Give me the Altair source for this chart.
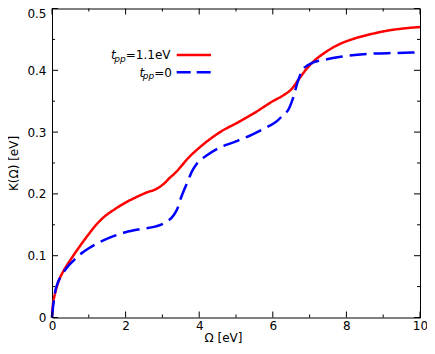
import altair as alt
import pandas as pd

# ---- data ----
red_x = [0, 0.02, 0.05, 0.1, 0.2, 0.3, 0.4, 0.5, 0.6, 0.8, 1.0, 1.2, 1.4, 1.7, 2.0,
         2.3, 2.6, 2.8, 2.92, 3.05, 3.2, 3.35, 3.5, 3.7, 3.95, 4.3, 4.65, 5.0, 5.5,
         6.0, 6.3, 6.5, 6.7, 6.9, 7.1, 7.4, 7.8, 8.2, 8.7, 9.2, 9.6, 10]
red_y = [0, 0.018, 0.03, 0.043, 0.062, 0.074, 0.084, 0.093, 0.102, 0.119, 0.135, 0.15,
         0.162, 0.175, 0.186, 0.195, 0.203, 0.207, 0.211, 0.217, 0.226, 0.234, 0.244,
         0.258, 0.272, 0.289, 0.303, 0.314, 0.331, 0.35, 0.36, 0.369, 0.385, 0.401,
         0.414, 0.428, 0.442, 0.451, 0.459, 0.465, 0.468, 0.47]

blue_x = [0, 0.03, 0.08, 0.15, 0.3, 0.45, 0.6, 0.7, 0.85, 1.0, 1.3, 1.6, 2.0, 2.4, 2.8,
          3.0, 3.15, 3.3, 3.4, 3.5, 3.6, 3.7, 3.8, 3.95, 4.2, 4.56, 5.0, 5.44, 5.9, 6.1,
          6.3, 6.42, 6.55, 6.68, 6.8, 6.95, 7.1, 7.4, 7.84, 8.3, 8.72, 9.3, 10]
blue_y = [0, 0.018, 0.04, 0.055, 0.072, 0.084, 0.093, 0.099, 0.106, 0.112, 0.122, 0.13,
          0.138, 0.143, 0.147, 0.151, 0.156, 0.165, 0.175, 0.193, 0.208, 0.222, 0.236,
          0.25, 0.262, 0.275, 0.285, 0.296, 0.31, 0.317, 0.329, 0.336, 0.355, 0.382,
          0.4, 0.408, 0.413, 0.417, 0.422, 0.425, 0.427, 0.428, 0.429]

series_names = ["tpp=1.1eV", "tpp=0"]
legend_values = ["=1.1eV", "=0"]

x_major = [0, 2, 4, 6, 8, 10]
x_minor = [1, 3, 5, 7, 9]
y_major = [0, 0.1, 0.2, 0.3, 0.4, 0.5]
y_minor = [0.05, 0.15, 0.25, 0.35, 0.45]

W, H = 368, 309
FONT = "DejaVu Sans"

df = pd.concat([
    pd.DataFrame({"x": red_x, "y": red_y, "series": series_names[0]}),
    pd.DataFrame({"x": blue_x, "y": blue_y, "series": series_names[1]}),
])

xs = alt.Scale(domain=[0, 10], nice=False, zero=False)
ys = alt.Scale(domain=[0, 0.5], nice=False, zero=False)
xaxis = alt.Axis(values=x_major, title="Ω [eV]", labelFlush=False, labelPadding=3,
                 titleX=171, titleY=15, titleBaseline="top", titleAlign="center",
                 labelOverlap=False)
yaxis = alt.Axis(values=y_major, title="K(Ω) [eV]", labelPadding=6, format=".1~f",
                 titleAngle=270, titleX=-43.5, titleY=154.5, titleBaseline="top",
                 titleAlign="center", labelOverlap=False,
                 labelOffset=alt.condition("datum.value >= 0.49", alt.value(4.5), alt.value(0)))

lines = alt.Chart(df).mark_line(strokeWidth=2.5, interpolate="monotone").encode(
    x=alt.X("x:Q", scale=xs, axis=xaxis),
    y=alt.Y("y:Q", scale=ys, axis=yaxis),
    color=alt.Color("series:N", scale=alt.Scale(domain=series_names, range=["#ff0000", "#0000ff"]), legend=None),
    strokeDash=alt.StrokeDash("series:N", scale=alt.Scale(domain=series_names, range=[[1, 0], [17, 7]]), legend=None),
)


def xticks(vals, length):
    d = pd.DataFrame({"v": vals})
    b = alt.Chart(d).mark_rule(color="black", strokeWidth=1).encode(
        x=alt.X("v:Q", scale=xs, axis=xaxis), y=alt.value(H), y2=alt.value(H - length))
    t = alt.Chart(d).mark_rule(color="black", strokeWidth=1).encode(
        x=alt.X("v:Q", scale=xs, axis=xaxis), y=alt.value(0), y2=alt.value(length))
    return [b, t]


def yticks(vals, length):
    d = pd.DataFrame({"v": vals})
    l = alt.Chart(d).mark_rule(color="black", strokeWidth=1).encode(
        y=alt.Y("v:Q", scale=ys, axis=yaxis), x=alt.value(0), x2=alt.value(length))
    r = alt.Chart(d).mark_rule(color="black", strokeWidth=1).encode(
        y=alt.Y("v:Q", scale=ys, axis=yaxis), x=alt.value(W), x2=alt.value(W - length))
    return [l, r]


tick_layers = xticks(x_major, 6) + xticks(x_minor, 3) + yticks(y_major, 6) + yticks(y_minor, 3)

# ---- custom legend ----
one = pd.DataFrame({"k": [0]})
leg = []
rows = [(0, 111 - 52, 50.8, 46.5, "#ff0000", [1, 0]),
        (1, 139.5 - 52, 68.2, 63.8, "#0000ff", [14, 6])]
for i, tx, base, ly, col, dash in rows:
    leg.append(alt.Chart(one).mark_text(font=FONT, fontSize=12, fontStyle="italic", align="left",
                                        baseline="alphabetic", color="black").encode(
        x=alt.value(tx), y=alt.value(base), text=alt.value("t")))
    leg.append(alt.Chart(one).mark_text(font=FONT, fontSize=9, fontStyle="italic", align="left",
                                        baseline="alphabetic", color="black").encode(
        x=alt.value(tx + 3.3), y=alt.value(base + 2.5), text=alt.value("pp")))
    leg.append(alt.Chart(one).mark_text(font=FONT, fontSize=12, align="left",
                                        baseline="alphabetic", color="black").encode(
        x=alt.value(tx + 14.8), y=alt.value(base), text=alt.value(legend_values[i])))
    leg.append(alt.Chart(one).mark_rule(color=col, strokeWidth=2.5, strokeDash=dash).encode(
        x=alt.value(124.7), x2=alt.value(159), y=alt.value(ly)))

chart = alt.layer(lines, *tick_layers, *leg).properties(
    width=W, height=H,
    autosize=alt.AutoSizeParams(type="none"),
    padding={"left": 44, "top": 0.5, "right": 7, "bottom": 27.5},
    background="white",
).configure_view(stroke="black", strokeWidth=1).configure_axis(
    labelFont=FONT, labelFontSize=12, labelColor="black",
    titleFont=FONT, titleFontSize=12, titleColor="black", titleFontWeight="normal",
    grid=False, domain=False, ticks=False, tickSize=0,
)

chart.save("out.html", embed_options={"renderer": "svg", "actions": False})
